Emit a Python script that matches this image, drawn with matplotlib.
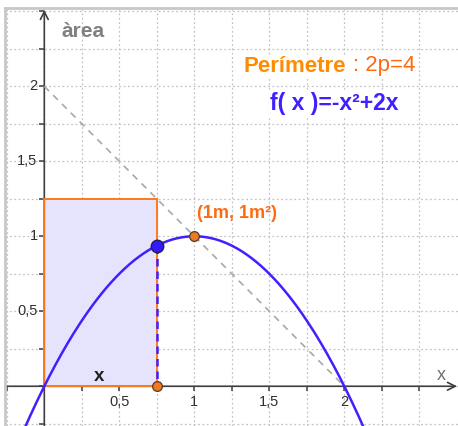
import numpy as np
import matplotlib
matplotlib.use('Agg')
import matplotlib.pyplot as plt
import matplotlib.markers as mk
from matplotlib.lines import Line2D

plt.rcParams['font.family'] = ['Liberation Sans', 'DejaVu Sans']

# data
coef = [-1, 2, 0]            # f(x) = -x^2 + 2x
x_side = 0.75                # rectangle base
rect_h = 1.25                # rectangle height (2 - x)
max_pt = (1, 1)
line_pts_x = [0, 2]          # perimetre line y = 2 - x
line_pts_y = [2, 0]
tick_vals = [0.5, 1, 1.5, 2]
tick_txt = ['0,5', '1', '1,5', '2']
grid_vals = [-0.25, 0, 0.25, 0.5, 0.75, 1, 1.25, 1.5, 1.75, 2, 2.25, 2.5]

blue = '#4020ff'
orange = '#ff7a1a'
axcol = '#404040'

fig = plt.figure(figsize=(4.58, 4.26), dpi=100)
ax = fig.add_axes([5/458, 0, 453/458, 418/426])
ax.set_xlim(-0.262, 2.758)
ax.set_ylim(-0.265, 2.522)

# grid
for g in grid_vals:
    ax.axvline(g, color='#c4c4c4', lw=0.9, ls=(0, (1.5, 2)), zorder=0)
    ax.axhline(g, color='#c4c4c4', lw=0.9, ls=(0, (1.5, 2)), zorder=0)

for s in ax.spines.values():
    s.set_visible(False)
ax.set_xticks([])
ax.set_yticks([])

# axes with arrows
ax.annotate('', xy=(2.752, 0), xytext=(-0.262, 0),
            arrowprops=dict(arrowstyle='->', color=axcol, lw=1.2, mutation_scale=14, shrinkA=0, shrinkB=0), zorder=2)
ax.annotate('', xy=(0, 2.51), xytext=(0, -0.265),
            arrowprops=dict(arrowstyle='->', color=axcol, lw=1.2, mutation_scale=14, shrinkA=0, shrinkB=0), zorder=2)
ax.plot(grid_vals, [0]*len(grid_vals), ls='none', marker=mk.TICKDOWN, ms=3.5, mew=1.1, color=axcol, zorder=2)
ax.plot([0]*len(grid_vals), grid_vals, ls='none', marker=mk.TICKLEFT, ms=3.5, mew=1.1, color=axcol, zorder=2)
for v, t in zip(tick_vals, tick_txt):
    ax.text(v, -0.055, t, ha='center', va='top', fontsize=10.5, color='#303030')
    ax.text(-0.045, v, t, ha='right', va='center', fontsize=10.5, color='#303030')

# rectangle
ax.fill([0, x_side, x_side, 0], [0, 0, rect_h, rect_h], color='#e6e4fd', zorder=1)
ax.plot([0, 0, x_side, x_side, 0], [0, rect_h, rect_h, 0, 0], color=orange, lw=1.4, zorder=3)

# dashed perimetre line
ax.plot(line_pts_x, line_pts_y, color='#a8a8a8', lw=1.2, ls=(0, (4, 3.5)), zorder=2)

# curve
xs = np.linspace(-0.3, 2.8, 300)
ax.plot(xs, np.polyval(coef, xs), color=blue, lw=1.8, zorder=4)
fx = np.polyval(coef, x_side)
ax.plot([x_side, x_side], [fx, 0], color=blue, lw=1.8, ls=(0, (3, 2)), zorder=4)

# points
ax.plot([x_side], [fx], 'o', ms=9, mfc='#3418ff', mec='#202050', mew=1, zorder=6)
ax.plot([max_pt[0], x_side], [max_pt[1], 0], 'o', ms=7, mfc='#f07a20', mec='#5a3a20', mew=0.9, zorder=6)

# texts
ax.text(0.118, 2.362, 'àrea', ha='left', va='center', fontsize=15, fontweight='bold', color='#808080')
ax.text(2.645, 0.075, 'x', ha='center', va='center', fontsize=13, color='#707070')
ax.text(0.365, 0.062, 'x', ha='center', va='center', fontsize=13.5, fontweight='bold', color='#202020', zorder=5)
ax.text(1.325, 2.13, 'Perímetre', ha='left', va='center', fontsize=16, fontweight='bold', color='#ff8c00',
        bbox=dict(fc='white', ec='none', pad=1), zorder=5)
ax.text(2.055, 2.14, ': 2p=4', ha='left', va='center', fontsize=16, color='#ff6a10',
        bbox=dict(fc='white', ec='none', pad=1), zorder=5)
ax.text(1.505, 1.882, 'f( x )=-x²+2x', ha='left', va='center', fontsize=16.5, fontweight='bold', color=blue,
        bbox=dict(fc='white', ec='none', pad=1), zorder=5)
ax.text(1.018, 1.15, '(1m, 1m²)', ha='left', va='center', fontsize=13, fontweight='bold', color='#ff6a10', zorder=5)

# frame
fig.add_artist(Line2D([5/458, 5/458], [0, 418/426], color='#c8c8c8', lw=2))
fig.add_artist(Line2D([5/458, 1], [418/426, 418/426], color='#c8c8c8', lw=2))

fig.savefig('out.png', dpi=100)
